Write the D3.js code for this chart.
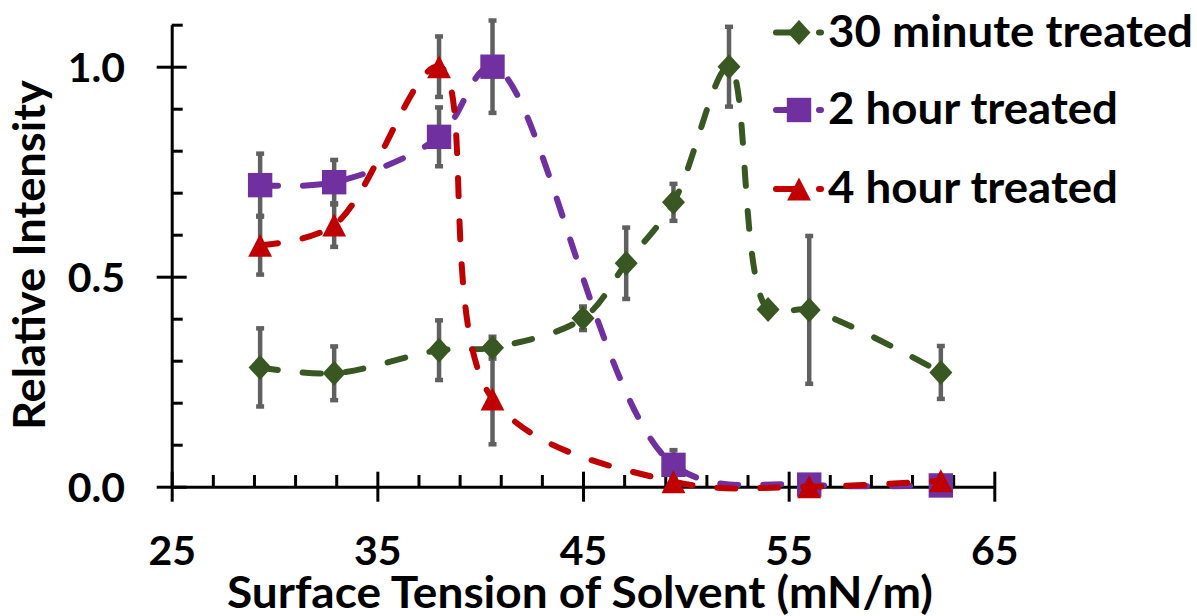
<!DOCTYPE html>
<meta charset="utf-8">
<style>
body { margin: 0; background: #fff; }
svg { display: block; font-family: Lato, "Open Sans", sans-serif; font-weight: 700; }
.axis path, .axis line { stroke: #000; stroke-width: 3px; }
.axis text { font-family: Lato, sans-serif; font-weight: 700; font-size: 41px; fill: #000; }
.series { fill: none; stroke-width: 6px; stroke-dasharray: 18,25; stroke-linecap: round; }
.err line { stroke: #606060; stroke-width: 4.5px; }
.title { font-size: 44px; fill: #000; }
.legend text { font-size: 44px; fill: #000; }
</style>
<div id="chart"></div>
<script src="https://d3js.org/d3.v7.min.js"></script>
<script>
// surface tension of the solvents (mN/m)
var tension30 = [29.3, 32.9, 38.0, 40.6, 45.0, 47.1, 49.4, 52.1, 54.0, 56.0, 62.4];
var tensionLong = [29.3, 32.9, 38.0, 40.6, 49.4, 56.0, 62.4];

// relative intensity and error for each treatment time
var intensity30 = [0.284, 0.270, 0.325, 0.331, 0.401, 0.532, 0.677, 1.000, 0.422, 0.421, 0.272];
var err30       = [0.093, 0.064, 0.071, 0.026, 0.028, 0.085, 0.044, 0.095, 0.010, 0.176, 0.063];
var intensity2h = [0.718, 0.725, 0.833, 1.000, 0.052, 0.005, 0.003];
var err2h       = [0.075, 0.053, 0.070, 0.110, 0.035, 0.004, 0.004];
var intensity4h = [0.575, 0.623, 1.000, 0.209, 0.012, 0.000, 0.014];
var err4h       = [0.070, 0.052, 0.072, 0.108, 0.008, 0.004, 0.006];

var seriesNames = ["30 minute treated", "2 hour treated", "4 hour treated"];
var xMajor = [25, 35, 45, 55, 65];
var yMajor = [0, 0.5, 1.0];

var series = [
  {name: seriesNames[0], xs: tension30, ys: intensity30, es: err30, color: "#385723", shape: "diamond"},
  {name: seriesNames[1], xs: tensionLong, ys: intensity2h, es: err2h, color: "#7030a0", shape: "square"},
  {name: seriesNames[2], xs: tensionLong, ys: intensity4h, es: err4h, color: "#c00000", shape: "triangle"}
];

function shapePath(s) {
  if (s == "diamond") return "M0,-12.5L11.5,0L0,12.5L-11.5,0Z";
  if (s == "square") return "M-12.2,-12.2h24.4v24.4h-24.4Z";
  return "M0,-11.5L11.9,11.5L-11.9,11.5Z";
}

var width = 1197, height = 616;
var svg = d3.select("#chart").append("svg")
    .attr("width", width)
    .attr("height", height);

var x = d3.scaleLinear().domain([25, 65]).range([171.7, 994.3]);
var y = d3.scaleLinear().domain([0, 1.1]).range([486.7, 24.7]);

// minor ticks
var xMinor = d3.range(27, 65, 2).filter(function(d) { return xMajor.indexOf(d) < 0; });
var yMinor = d3.range(1, 12).map(function(d) { return d / 10; })
    .filter(function(d) { return d != 0.5 && d != 1.0; });

svg.append("g")
    .attr("class", "axis")
    .attr("transform", "translate(0," + y(0) + ")")
    .call(d3.axisBottom(x).tickValues(xMinor).tickSize(-11.7).tickFormat(""))
    .call(function(g) { g.select(".domain").remove(); });

svg.append("g")
    .attr("class", "axis")
    .attr("transform", "translate(" + x(25) + ",0)")
    .call(d3.axisLeft(y).tickValues(yMinor).tickSize(-11).tickFormat(""))
    .call(function(g) { g.select(".domain").remove(); });

// major ticks cross the axis line
var xAxis = svg.append("g")
    .attr("class", "axis")
    .attr("transform", "translate(0," + y(0) + ")")
    .call(d3.axisBottom(x).tickValues(xMajor).tickSize(15).tickSizeOuter(0).tickFormat(d3.format("d")));
xAxis.selectAll(".tick line").attr("y1", -15);
xAxis.selectAll(".tick text").attr("y", 78.3).attr("dy", null);

var yAxis = svg.append("g")
    .attr("class", "axis")
    .attr("transform", "translate(" + x(25) + ",0)")
    .call(d3.axisLeft(y).tickValues(yMajor).tickSize(15).tickSizeOuter(0).tickFormat(d3.format(".1f")));
yAxis.selectAll(".tick line").attr("x1", 15);
yAxis.selectAll(".tick text").attr("x", -46.7).attr("dy", null).attr("y", 14.3);

// error bars first, markers sit on top
var errG = svg.append("g").attr("class", "err");
series.forEach(function(s) {
  s.xs.forEach(function(xv, i) {
    var top = y(s.ys[i] + s.es[i]), bot = y(s.ys[i] - s.es[i]), cx = x(xv);
    errG.append("line").attr("x1", cx).attr("x2", cx).attr("y1", top).attr("y2", bot);
    errG.append("line").attr("x1", cx - 4).attr("x2", cx + 4).attr("y1", top).attr("y2", top);
    errG.append("line").attr("x1", cx - 4).attr("x2", cx + 4).attr("y1", bot).attr("y2", bot);
  });
});

var line = d3.line()
    .x(function(d) { return x(d[0]); })
    .y(function(d) { return y(d[1]); })
    .curve(d3.curveCatmullRom.alpha(0.5));

series.forEach(function(s) {
  var pts = d3.zip(s.xs, s.ys);
  svg.append("path")
      .datum(pts)
      .attr("class", "series")
      .attr("stroke", s.color)
      .attr("d", line);
  svg.selectAll(null)
      .data(pts)
      .enter().append("path")
      .attr("d", shapePath(s.shape))
      .attr("fill", s.color)
      .attr("transform", function(d) { return "translate(" + x(d[0]) + "," + y(d[1]) + ")"; });
});

// legend
var legend = svg.append("g").attr("class", "legend");
var rowY = [32.5, 110, 189];
var labelW = [365, 290, 290];
series.forEach(function(s, i) {
  var g = legend.append("g").attr("transform", "translate(0," + rowY[i] + ")");
  g.append("line")
      .attr("class", "series")
      .attr("stroke", s.color)
      .attr("x1", 776).attr("x2", 821).attr("y1", 0).attr("y2", 0);
  g.append("path")
      .attr("d", shapePath(s.shape))
      .attr("fill", s.color)
      .attr("transform", "translate(799,0)");
  g.append("text")
      .attr("x", 828)
      .attr("y", 14.2)
      .attr("textLength", labelW[i])
      .attr("lengthAdjust", "spacingAndGlyphs")
      .text(s.name);
});

svg.append("text")
    .attr("class", "title")
    .attr("text-anchor", "middle")
    .attr("x", 580)
    .attr("y", 608.3)
    .attr("textLength", 706)
    .attr("lengthAdjust", "spacingAndGlyphs")
    .text("Surface Tension of Solvent (mN/m)");

svg.append("text")
    .attr("class", "title")
    .attr("text-anchor", "middle")
    .attr("transform", "translate(45,255)rotate(-90)")
    .attr("textLength", 350)
    .attr("lengthAdjust", "spacingAndGlyphs")
    .text("Relative Intensity");
</script>
